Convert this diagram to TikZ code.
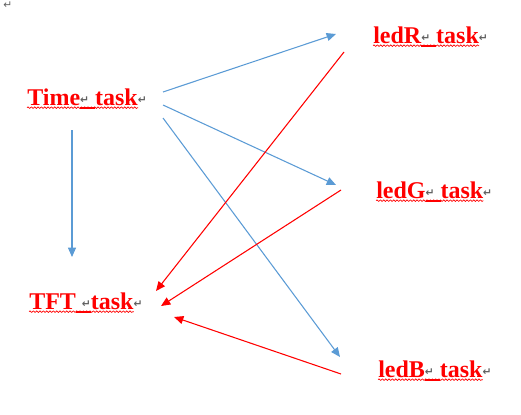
\documentclass[tikz,border=0pt]{standalone}
\usepackage{fontspec}
\setmainfont{Liberation Serif}
\newfontfamily\retfont{DejaVu Sans}
\usetikzlibrary{arrows.meta,decorations.pathmorphing}
\definecolor{wordblue}{HTML}{5B9BD5}
\newcommand\ret{\raisebox{1.5pt}{\retfont\fontsize{8}{9}\selectfont\color{gray!75!black}\symbol{"21B5}}}
\newcommand\gram[1]{\setbox0\hbox{#1}\rlap{\color{red}\rule[-3pt]{\wd0}{1.3pt}}\box0}

\begin{document}
\begin{tikzpicture}[
  x=0.75pt, y=-0.75pt,
  task/.style={anchor=base west, inner sep=0pt, text=red, font=\fontsize{18}{20}\selectfont\bfseries},
  wavy/.style={draw=red, line width=0.5pt, decorate, decoration={snake, amplitude=0.6pt, segment length=2.5pt}},
  blue arrow/.style={draw=wordblue, line width=0.8pt, -{Triangle[length=7pt,width=6pt]}},
  red arrow/.style={draw=red, line width=0.8pt, -{Triangle[length=7pt,width=6pt]}}
]
\useasboundingbox (0,0) rectangle (521,414);
\node[anchor=base west, inner sep=0pt] (para) at (3,10) {\ret};
\node[task] (time) at (27,105) {Time\gram{\ret\ }task\rlap{\ret}};
\node[task] (tft) at (29,309) {TFT\gram{\ \ret}task\rlap{\ret}};
\node[task] (ledR) at (373,43) {ledR\gram{\ret\ }task\rlap{\ret}};
\node[task] (ledG) at (376,198) {ledG\gram{\ret\ }task\rlap{\ret}};
\node[task] (ledB) at (378,377) {ledB\gram{\ret\ }task\rlap{\ret}};
\foreach \n in {time,tft,ledR,ledG,ledB}
  \draw[wavy] ([yshift=-2pt]\n.base west) -- ([yshift=-2pt]\n.base east);

\draw[blue arrow] ([shift={(136,-13)}]time.base west) -- ([shift={(-37,-9)}]ledR.base west);
\draw[blue arrow] ([shift={(136,0)}]time.base west) -- ([shift={(-40,-13)}]ledG.base west);
\draw[blue arrow] ([shift={(136,13)}]time.base west) -- ([shift={(-38,-20)}]ledB.base west);
\draw[blue arrow] ([shift={(45,25)}]time.base west) -- ([shift={(43,-52)}]tft.base west);
\draw[red arrow] ([shift={(-29,9)}]ledR.base west) -- ([shift={(127,-18)}]tft.base west);
\draw[red arrow] ([shift={(-35,-8)}]ledG.base west) -- ([shift={(132,-3)}]tft.base west);
\draw[red arrow] ([shift={(-37,-3)}]ledB.base west) -- ([shift={(145,8)}]tft.base west);
\end{tikzpicture}
\end{document}
